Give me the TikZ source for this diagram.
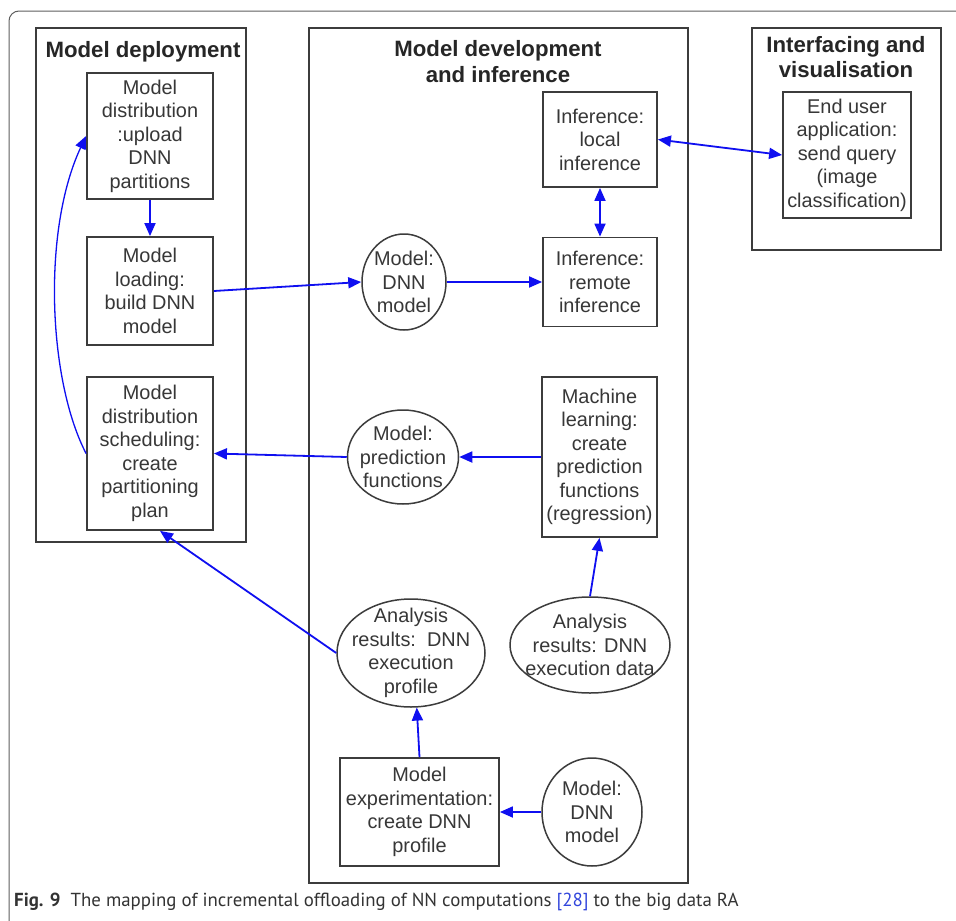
\documentclass[tikz,border=0pt]{standalone}
\usepackage{fontspec}
\setmainfont{Liberation Sans}
\newfontfamily\capfont{PT Sans}
\usetikzlibrary{arrows.meta,shapes.geometric}

\definecolor{linkblue}{RGB}{15,15,240}
\definecolor{boxgray}{RGB}{60,60,60}
\definecolor{txtgray}{RGB}{55,55,55}
\definecolor{framegray}{RGB}{95,95,95}
\definecolor{refblue}{RGB}{50,70,220}

\begin{document}
\begin{tikzpicture}[x=1pt,y=-1pt,
  lbl/.style={font=\fontsize{19.9}{23.5}\selectfont, text=txtgray, align=center, inner sep=0pt},
  ttl/.style={font=\fontsize{22.2}{26}\selectfont\bfseries, text=black!85, inner sep=0pt, anchor=base},
  group/.style={draw=boxgray, line width=2pt, rectangle, inner sep=0pt},
  stepbox/.style={lbl, draw=boxgray, line width=1.8pt, rectangle},
  oval/.style={draw=boxgray, line width=1.5pt, ellipse, inner sep=0pt},
  flow/.style={draw=linkblue, line width=1.8pt, -{Triangle[length=13pt,width=11pt]}},
  flow2/.style={draw=linkblue, line width=1.8pt, {Triangle[length=13pt,width=11pt]}-{Triangle[length=13pt,width=11pt]}}
]
\useasboundingbox (0,0) rectangle (956,921);
\fill[white] (0,0) rectangle (956,921);
\clip (0,0) rectangle (956,921);

% outer panel
\draw[framegray, line width=1pt, rounded corners=10pt] (9,11) rectangle (990,960);

% group frames
\node[group, minimum width=210, minimum height=514] (gdep) at (141,285) {};
\node[group, minimum width=379, minimum height=855] (gdev) at (498.5,455.5) {};
\node[group, minimum width=189, minimum height=222] (gvis) at (846.5,139) {};

% group titles
\node[ttl] (tdep) at (143,57) {Model deployment};
\node[ttl] (tdev1) at (498,56) {Model development};
\node[ttl] (tdev2) at (498,82) {and inference};
\node[ttl] (tvis1) at (846,52) {Interfacing and};
\node[ttl] (tvis2) at (846,77) {visualisation};

% model deployment
\node[stepbox, minimum width=126, minimum height=126] (dist) at (150,136)
  {Model\\distribution\\:upload\\DNN\\partitions};
\node[stepbox, minimum width=126, minimum height=108] (load) at (150,291)
  {Model\\loading:\\build DNN\\model};
\node[stepbox, minimum width=126, minimum height=153] (sched) at (150,453.5)
  {Model\\distribution\\scheduling:\\create\\partitioning\\plan};

% model development and inference
\node[stepbox, minimum width=114, minimum height=95] (local) at (600,139.5)
  {Inference:\\local\\inference};
\node[stepbox, minimum width=114, minimum height=89] (remote) at (600,282)
  {Inference:\\remote\\inference};
\node[oval, minimum width=84, minimum height=96,
  label={[lbl]center:Model:\\DNN\\model}] (dnn1) at (404,282) {};
\node[oval, minimum width=111, minimum height=94,
  label={[lbl]center:Model:\\prediction\\functions}] (pred) at (403,457) {};
\node[stepbox, minimum width=115, minimum height=160] (ml) at (599.5,457)
  {Machine\\learning:\\create\\prediction\\functions\\(regression)};
\node[oval, minimum width=160, minimum height=96,
  label={[lbl]center:Analysis\\results: DNN\\execution data}] (exdata) at (590,645) {};
\node[oval, minimum width=148, minimum height=108,
  label={[lbl]center:Analysis\\results:\ \ DNN\\execution\\profile}] (profile) at (411,653) {};
\node[stepbox, minimum width=159, minimum height=108] (expbox) at (419.5,812)
  {Model\\experimentation:\\create DNN\\profile};
\node[oval, minimum width=100, minimum height=108,
  label={[lbl]center:Model:\\DNN\\model}] (dnn2) at (592,812) {};

% interfacing and visualisation
\node[stepbox, minimum width=128, minimum height=126] (user) at (847,155)
  {End user\\application:\\send query\\(image\\classification)};

% connectors
\draw[flow] (dist.south) -- (load.north);
\draw[flow] (load.east) -- (dnn1.west);
\draw[flow] (dnn1.east) -- (remote.west);
\draw[flow2] (local.south) -- (remote.north);
\draw[flow2] (local.east) -- (user.west);
\draw[flow] (ml.west) -- (pred.east);
\draw[flow] (pred.west) -- (sched.east);
\draw[flow] (exdata.north) -- (ml.south);
\draw[flow] (profile.west) -- ([xshift=10pt]sched.south);
\draw[flow] (expbox.north) -- (profile.-84);
\draw[flow] (dnn2.west) -- (expbox.east);
\draw[flow, line width=1.3pt] (sched.west) .. controls (48,380) and (42,230) .. (dist.west);

% caption
\node[anchor=base west, inner sep=0pt, text=black!80,
  font=\capfont\fontsize{18.85}{22}\selectfont] (cap) at (14,906)
  {\textbf{Fig. 9}\ \ The mapping of incremental offloading of NN computations \textcolor{refblue}{[28]} to the big data RA};
\end{tikzpicture}
\end{document}
